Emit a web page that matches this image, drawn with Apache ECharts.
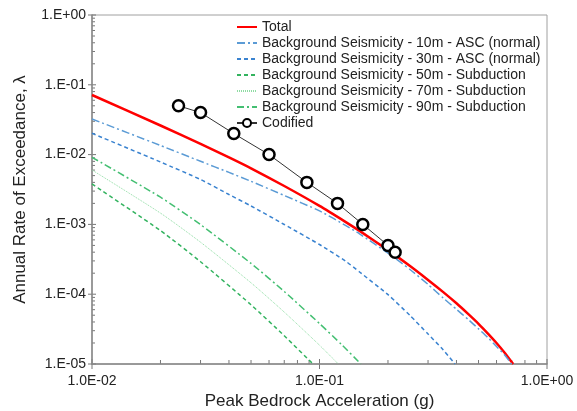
<!DOCTYPE html>
<html>
<head>
<meta charset="utf-8">
<script src="https://cdn.jsdelivr.net/npm/echarts@6/dist/echarts.min.js"></script>
<style>html,body{margin:0;padding:0;background:#fff}#c{width:577px;height:411px}</style>
</head>
<body>
<div id="c"></div>
<script>
// ---- data ----
const totalX = [0.01, 0.02, 0.03, 0.04, 0.05, 0.07, 0.1, 0.13, 0.15, 0.2, 0.25, 0.3, 0.35, 0.4, 0.45, 0.5, 0.55, 0.6, 0.65, 0.71];
const totalY = [0.07143, 0.02612, 0.01428, 0.009117, 0.006364, 0.003549, 0.001841, 0.001089, 0.000807, 0.000428, 0.0002535, 0.0001603, 0.0001072, 7.41e-5, 5.22e-5, 3.77e-5, 2.73e-5, 2.0e-5, 1.46e-5, 1.0e-5];

const bs10X = [0.01, 0.02, 0.03, 0.04, 0.05, 0.07, 0.1, 0.13, 0.15, 0.2, 0.25, 0.3, 0.35, 0.4, 0.45, 0.5, 0.55, 0.6, 0.65, 0.70];
const bs10Y = [0.03236, 0.0135, 0.008017, 0.005559, 0.004144, 0.002594, 0.001561, 0.000971, 0.000731, 0.000388, 0.0002259, 0.0001382, 8.79e-5, 6.08e-5, 4.36e-5, 3.19e-5, 2.39e-5, 1.78e-5, 1.36e-5, 1.0e-5];

const bs30X = [0.01, 0.02, 0.03, 0.04, 0.05, 0.07, 0.1, 0.13, 0.15, 0.2, 0.25, 0.3, 0.35, 0.394];
const bs30Y = [0.02019, 0.007834, 0.004398, 0.002681, 0.001835, 0.000997, 0.000515, 0.000299, 0.000208, 9.84e-5, 4.95e-5, 2.69e-5, 1.59e-5, 1.0e-5];

const bs50X = [0.01, 0.02, 0.03, 0.05, 0.07, 0.0936];
const bs50Y = [0.003792, 0.000815, 0.000292, 7.05e-5, 2.54e-5, 1.0e-5];

const bs70X = [0.01, 0.02, 0.03, 0.05, 0.07, 0.1, 0.121];
const bs70Y = [0.006017, 0.001451, 0.000556, 0.0001457, 5.54e-5, 1.86e-5, 1.0e-5];

const bs90X = [0.01, 0.02, 0.03, 0.05, 0.07, 0.1, 0.125, 0.152];
const bs90Y = [0.009148, 0.002454, 0.000993, 0.0002762, 0.0001093, 3.8e-5, 1.9e-5, 1.0e-5];

const codX = [0.024, 0.03, 0.042, 0.06, 0.088, 0.12, 0.155, 0.2, 0.215];
const codY = [0.05, 0.04, 0.02, 0.01, 0.004, 0.002, 0.001, 0.0005, 0.0004];

const seriesNames = [
  'Total',
  'Background Seismicity - 10m - ASC (normal)',
  'Background Seismicity - 30m - ASC (normal)',
  'Background Seismicity - 50m - Subduction',
  'Background Seismicity - 70m - Subduction',
  'Background Seismicity - 90m - Subduction',
  'Codified'
];
const xTickDecades = [-2, -1, 0];
const yTickDecades = [-5, -4, -3, -2, -1, 0];

// ---- helpers ----
const zip = (xs, ys) => xs.map((x, i) => [x, ys[i]]);
function expStr(v) {
  const e = Math.round(Math.log10(v));
  const s = e < 0 ? '-' : '+';
  const a = Math.abs(e);
  return s + (a < 10 ? '0' : '') + a;
}
const FONT = 'Liberation Sans, Arial, sans-serif';

function curve(name, xs, ys, color, width, type) {
  return {
    name, type: 'line', data: zip(xs, ys), symbol: 'none', smooth: 0.2,
    lineStyle: { color, width, type }, itemStyle: { color }, z: 3
  };
}

const legendData = seriesNames.map((n, i) => i === 6 ? { name: n } :
  { name: n, itemStyle: { opacity: 0, color: 'transparent', borderColor: 'transparent', borderWidth: 0 } });

const chart = echarts.init(document.getElementById('c'), null, { renderer: 'canvas' });
const option = {
  animation: false,
  backgroundColor: '#fff',
  textStyle: { fontFamily: FONT },
  grid: { left: 92, right: 30, top: 15, bottom: 47, show: true, borderColor: '#a0a0a0', borderWidth: 1,
    containLabel: false, outerBoundsMode: 'none' },
  legend: {
    orient: 'vertical', left: 236, top: 20, itemWidth: 20, itemHeight: 10, itemGap: 2,
    padding: 0, data: legendData,
    textStyle: { fontSize: 14, color: '#222', fontFamily: FONT }
  },
  xAxis: {
    type: 'log', logBase: 10, min: 0.01, max: 1,
    name: 'Peak Bedrock Acceleration (g)', nameLocation: 'middle', nameGap: 24,
    nameTextStyle: { fontSize: 17, color: '#222', fontFamily: FONT },
    axisLine: { onZero: false, lineStyle: { color: '#888', width: 1.5 } },
    axisTick: { show: false }, splitLine: { show: false },
    axisLabel: { fontSize: 14, color: '#222', margin: 10, fontFamily: FONT,
      formatter: v => '1.0E' + expStr(v) }
  },
  yAxis: {
    type: 'log', logBase: 10, min: 1e-5, max: 1,
    name: 'Annual Rate of Exceedance, \u03bb', nameLocation: 'middle', nameGap: 63,
    nameTextStyle: { fontSize: 17, color: '#222', fontFamily: FONT },
    axisLine: { onZero: false, lineStyle: { color: '#888', width: 1.5 } },
    axisTick: { show: false }, splitLine: { show: false },
    axisLabel: { fontSize: 14, color: '#222', margin: 6, fontFamily: FONT,
      formatter: v => '1.E' + expStr(v) }
  },
  series: [
    curve(seriesNames[0], totalX, totalY, '#ff0000', 2.5, 'solid'),
    curve(seriesNames[1], bs10X, bs10Y, '#5b9bd5', 1.5, [8, 3, 2, 3]),
    curve(seriesNames[2], bs30X, bs30Y, '#3a83d0', 1.5, [4, 3]),
    curve(seriesNames[3], bs50X, bs50Y, '#33b35f', 1.5, [4, 3]),
    curve(seriesNames[4], bs70X, bs70Y, '#8fdca3', 1, [1, 1]),
    curve(seriesNames[5], bs90X, bs90Y, '#44bf72', 1.5, [7, 3, 2, 3]),
    {
      name: seriesNames[6], type: 'line', data: zip(codX, codY),
      symbol: 'circle', symbolSize: 11,
      lineStyle: { color: '#333', width: 1 },
      itemStyle: { color: '#fff', borderColor: '#000', borderWidth: 2.5 },
      z: 5
    }
  ]
};
chart.setOption(option);

// ---- tick marks (major crossing the axis, minor inside) ----
function addTicks() {
  const g = [];
  const tickStyle = { stroke: '#777', lineWidth: 1 };
  const axisY = chart.convertToPixel({ yAxisIndex: 0 }, 1e-5);
  const axisX = chart.convertToPixel({ xAxisIndex: 0 }, 0.01);
  xTickDecades.forEach(d => {
    const base = Math.pow(10, d);
    const p = chart.convertToPixel({ xAxisIndex: 0 }, base);
    g.push({ type: 'line', shape: { x1: p, y1: axisY - 5, x2: p, y2: axisY + 5 }, style: tickStyle, silent: true });
    if (d < 0) {
      for (let k = 2; k <= 9; k++) {
        const q = chart.convertToPixel({ xAxisIndex: 0 }, k * base);
        g.push({ type: 'line', shape: { x1: q, y1: axisY - 4, x2: q, y2: axisY }, style: tickStyle, silent: true });
      }
    }
  });
  yTickDecades.forEach(d => {
    const base = Math.pow(10, d);
    const p = chart.convertToPixel({ yAxisIndex: 0 }, base);
    g.push({ type: 'line', shape: { x1: axisX - 4, y1: p, x2: axisX + 4, y2: p }, style: tickStyle, silent: true });
    if (d < 0) {
      for (let k = 2; k <= 9; k++) {
        const q = chart.convertToPixel({ yAxisIndex: 0 }, k * base);
        g.push({ type: 'line', shape: { x1: axisX, y1: q, x2: axisX + 3, y2: q }, style: tickStyle, silent: true });
      }
    }
  });
  chart.setOption({ graphic: g });
}
addTicks();
</script>
</body>
</html>
